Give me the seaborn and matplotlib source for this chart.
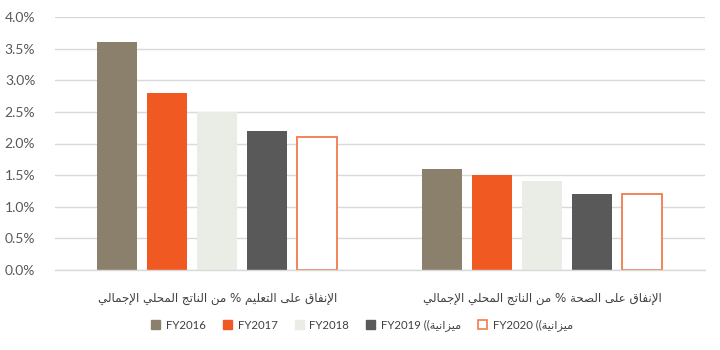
import matplotlib
matplotlib.use("Agg")
import matplotlib.pyplot as plt
from matplotlib.patches import Patch
from matplotlib.ticker import FuncFormatter
import seaborn as sns
import pandas as pd

# ---------------- data ----------------
categories = ["الإنفاق على التعليم % من الناتج المحلي الإجمالي",
              "الإنفاق على الصحة % من الناتج المحلي الإجمالي"]
years = ["FY2016", "FY2017", "FY2018", "FY2019", "FY2020"]
budget_word = "ميزانية"
fy2016 = [3.6, 1.6]
fy2017 = [2.8, 1.5]
fy2018 = [2.5, 1.4]
fy2019 = [2.2, 1.2]
fy2020 = [2.1, 1.2]
y_ticks = [0.0, 0.5, 1.0, 1.5, 2.0, 2.5, 3.0, 3.5, 4.0]

# ---------------- minimal Arabic shaping (presentation forms, visual order) ----------------
AR = {
    'ا': (0xFE8D, 0xFE8E, None, None),
    'إ': (0xFE87, 0xFE88, None, None),
    'ل': (0xFEDD, 0xFEDE, 0xFEDF, 0xFEE0),
    'ن': (0xFEE5, 0xFEE6, 0xFEE7, 0xFEE8),
    'ف': (0xFED1, 0xFED2, 0xFED3, 0xFED4),
    'ق': (0xFED5, 0xFED6, 0xFED7, 0xFED8),
    'ع': (0xFEC9, 0xFECA, 0xFECB, 0xFECC),
    'ى': (0xFEEF, 0xFEF0, None, None),
    'ت': (0xFE95, 0xFE96, 0xFE97, 0xFE98),
    'ي': (0xFEF1, 0xFEF2, 0xFEF3, 0xFEF4),
    'م': (0xFEE1, 0xFEE2, 0xFEE3, 0xFEE4),
    'ص': (0xFEB9, 0xFEBA, 0xFEBB, 0xFEBC),
    'ح': (0xFEA1, 0xFEA2, 0xFEA3, 0xFEA4),
    'ة': (0xFE93, 0xFE94, None, None),
    'ج': (0xFE9D, 0xFE9E, 0xFE9F, 0xFEA0),
    'ز': (0xFEAF, 0xFEB0, None, None),
}
LAMALEF = {'ا': (0xFEFB, 0xFEFC), 'إ': (0xFEF9, 0xFEFA)}


def shape(text):
    tokens = []
    i = 0
    while i < len(text):
        c = text[i]
        if c == 'ل' and i + 1 < len(text) and text[i + 1] in LAMALEF:
            tokens.append(('LA', text[i + 1]))
            i += 2
        else:
            tokens.append(c)
            i += 1

    def joins_next(t):
        if isinstance(t, tuple):
            return False
        return t in AR and AR[t][2] is not None

    def is_letter(t):
        return isinstance(t, tuple) or t in AR

    out = []
    for k, t in enumerate(tokens):
        prev = tokens[k - 1] if k > 0 else None
        nxt = tokens[k + 1] if k + 1 < len(tokens) else None
        cp = prev is not None and joins_next(prev)
        if isinstance(t, tuple):
            f = LAMALEF[t[1]]
            out.append(chr(f[1] if cp else f[0]))
            continue
        if t not in AR:
            out.append(t)
            continue
        iso, fin, ini, med = AR[t]
        cn = ini is not None and nxt is not None and is_letter(nxt)
        if cp and cn:
            g = med
        elif cp:
            g = fin
        elif cn:
            g = ini
        else:
            g = iso
        out.append(chr(g))
    return ''.join(out)[::-1]


# ---------------- build table ----------------
series = [fy2016, fy2017, fy2018, fy2019, fy2020]
rows = []
for yr, vals in zip(years, series):
    for cat, v in zip(categories, vals):
        rows.append({"category": cat, "year": yr, "value": v})
df = pd.DataFrame(rows)

colors = ["#8B806B", "#F05A22", "#EAECE6", "#595959", "#FFFFFF"]
edge2020 = "#F37A4C"
text_col = "#595959"

sns.set_theme(style="white")
plt.rcParams['font.family'] = ['Lato', 'DejaVu Sans']

fig = plt.figure(figsize=(7.2, 3.5), dpi=100)
ax = fig.add_axes([0.076, 0.229, 0.903, 0.722])

sns.barplot(data=df, x="category", y="value", hue="year", order=categories,
            hue_order=years, palette=colors, saturation=1, width=0.769, gap=0.2,
            ax=ax, legend=False, linewidth=0)

# FY2020 bars: outlined
for p in ax.containers[4]:
    p.set_facecolor("white")
    p.set_edgecolor(edge2020)
    p.set_linewidth(1.3)

ax.set_ylim(0, 4.0)
ax.set_yticks(y_ticks)
ax.yaxis.set_major_formatter(FuncFormatter(lambda v, _: f"{v:.1f}%"))
ax.grid(axis="y", color="#D9D9D9", linewidth=1)
ax.set_axisbelow(True)
for s in ["top", "right", "left"]:
    ax.spines[s].set_visible(False)
ax.spines["bottom"].set_color("#D9D9D9")
ax.spines["bottom"].set_linewidth(1)
ax.set_xlabel("")
ax.set_ylabel("")
ax.tick_params(axis="y", length=0, pad=14, labelsize=10, labelcolor=text_col)
ax.tick_params(axis="x", length=0, pad=16, labelsize=8.6, labelcolor="#404040")
ax.set_xticks(range(len(categories)))
ax.set_xticklabels([shape(c) for c in categories], fontfamily="DejaVu Sans")
ax.set_xlim(-0.5, 1.5)

# legend
labels = ["FY2016", "FY2017", "FY2018",
          "FY2019 ((" + shape(budget_word), "FY2020 ((" + shape(budget_word)]
handles = []
for i, c in enumerate(colors):
    if i == 4:
        handles.append(Patch(facecolor="white", edgecolor=edge2020, linewidth=1.2))
    else:
        handles.append(Patch(facecolor=c, edgecolor=c))
leg = fig.legend(handles, labels, loc="center", bbox_to_anchor=(0.503, 0.07), ncol=5,
                 frameon=False, fontsize=8.2, handlelength=0.8, handleheight=0.8,
                 handletextpad=0.5, columnspacing=1.5)
for t in leg.get_texts():
    t.set_color("#404040")
    t.set_fontfamily(["Lato", "DejaVu Sans"])

fig.savefig("out.png", dpi=100)
